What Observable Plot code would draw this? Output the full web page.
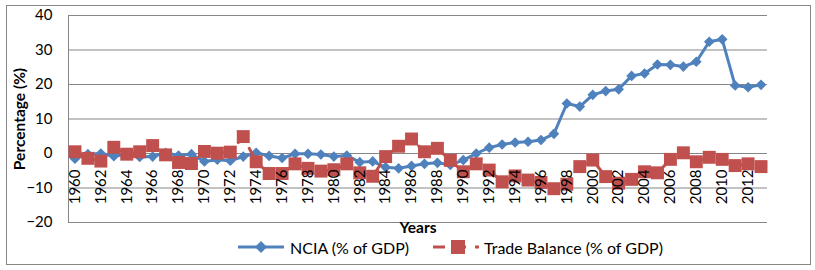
<!DOCTYPE html>
<html><head><meta charset="utf-8">
<script src="https://cdn.jsdelivr.net/npm/d3@7"></script>
<script src="https://cdn.jsdelivr.net/npm/@observablehq/plot@0.6"></script>
<style>
html,body{margin:0;padding:0;background:#fff;}
#page{position:relative;width:815px;height:270px;overflow:hidden;font-family:Lato,sans-serif;background:#fff;}
#border{position:absolute;left:6px;top:5px;width:805px;height:260px;border:1px solid #868686;box-sizing:border-box;pointer-events:none;}
#chart{position:absolute;left:0;top:0;}
#legend{position:absolute;left:0;top:238px;height:18px;width:815px;font-size:16px;color:#000;}
.item{position:absolute;top:0;height:18px;display:flex;align-items:center;white-space:nowrap;}
.item svg{display:block;}
</style>
</head><body>
<div id="page"><div id="chart"></div><div id="legend"></div><div id="border"></div></div>
<script>
const years = [1960,1961,1962,1963,1964,1965,1966,1967,1968,1969,1970,1971,1972,1973,1974,1975,1976,1977,1978,1979,1980,1981,1982,1983,1984,1985,1986,1987,1988,1989,1990,1991,1992,1993,1994,1995,1996,1997,1998,1999,2000,2001,2002,2003,2004,2005,2006,2007,2008,2009,2010,2011,2012,2013];
const ncia = [-1.5,-0.2,0,-0.8,-0.2,-1.0,-0.9,0.2,-0.6,-0.2,-2.3,-1.8,-2.1,-0.9,0.2,-0.7,-1.3,-0.1,-0.1,-0.3,-0.9,-0.6,-2.5,-2.3,-4.0,-4.3,-3.6,-3.0,-2.7,-3.3,-1.9,0,1.7,2.6,3.2,3.4,3.9,5.7,14.5,13.6,17.0,18.1,18.6,22.5,23.2,25.8,25.7,25.2,26.6,32.4,33.1,19.7,19.2,19.9];
const tradeBalance = [0.5,-1.4,-2.2,1.8,-0.2,0.5,2.3,-0.4,-2.6,-2.9,0.6,0.1,0.4,4.9,-2.4,-5.8,-5.8,-3.0,-4.3,-5.1,-4.7,-3.0,-5.6,-6.6,-0.9,2.1,4.2,0.5,1.5,-2.0,-5.3,-3.0,-4.8,-8.2,-6.5,-7.7,-8.4,-10.2,-8.9,-3.8,-1.9,-6.7,-8.6,-7.5,-5.3,-5.6,-1.7,0.2,-2.4,-1.1,-1.7,-3.5,-3.0,-3.8];
const yTicks = [-20,-10,0,10,20,30,40];
const xTickLabels = [1960,1962,1964,1966,1968,1970,1972,1974,1976,1978,1980,1982,1984,1986,1988,1990,1992,1994,1996,1998,2000,2002,2004,2006,2008,2010,2012];
const seriesNames = ["NCIA (% of GDP)", "Trade Balance (% of GDP)"];
const yTitle = "Percentage (%)";
const xTitle = "Years";

const blue = "#4F81BD", red = "#C0504D", grid = "#868686";
const rows = years.map((year, i) => ({year, ncia: ncia[i], trade: tradeBalance[i]}));

const chart = Plot.plot({
  width: 815, height: 240,
  marginLeft: 68, marginRight: 48, marginTop: 15, marginBottom: 18,
  x: {type: "point", domain: years, padding: 0.5, axis: null},
  y: {domain: [-20, 40], axis: null},
  style: {fontFamily: "Lato, sans-serif", fontSize: "15px", background: "#fff", color: "#000", overflow: "visible"},
  marks: [
    Plot.ruleY(yTicks, {stroke: grid, strokeOpacity: 1}),
    Plot.frame({anchor: "left", stroke: grid, strokeOpacity: 1}),
    Plot.axisY(yTicks, {tickSize: 0, tickPadding: 16, label: null, fontSize: 15, fill: "#000"}),
    Plot.line(rows, {x: "year", y: "ncia", stroke: blue, strokeWidth: 3}),
    Plot.dot(rows, {x: "year", y: "ncia", symbol: "diamond2", fill: blue, stroke: "none", r: 4.8}),
    Plot.line(rows, {x: "year", y: "trade", stroke: red, strokeWidth: 3, strokeDasharray: "12,9"}),
    Plot.dot(rows, {x: "year", y: "trade", symbol: "square", fill: red, stroke: "none", r: 7.3}),
    Plot.text(xTickLabels, {x: d => d, y: () => 0, text: d => String(d), rotate: -90, textAnchor: "end", lineAnchor: "middle", dy: 16, fontSize: 15, fill: "#000"}),
    Plot.text([yTitle], {frameAnchor: "left", dx: -48, rotate: -90, textAnchor: "middle", lineAnchor: "middle", fontWeight: "bold", fontSize: 15.5, fill: "#000"}),
    Plot.text([xTitle], {frameAnchor: "bottom", dy: 6, textAnchor: "middle", lineAnchor: "middle", fontWeight: "bold", fontSize: 15.5, fill: "#000"})
  ]
});
document.getElementById("chart").append(chart);

const legend = document.getElementById("legend");
legend.innerHTML = `
<div class="item" style="left:238px">
  <svg width="46" height="18"><line x1="0" y1="9" x2="46" y2="9" stroke="${blue}" stroke-width="3"/>
  <path d="M23,3 L29,9 L23,15 L17,9 Z" fill="${blue}"/></svg>
  <span style="margin-left:6px">${seriesNames[0]}</span>
</div>
<div class="item" style="left:433px">
  <svg width="46" height="18"><line x1="0" y1="9" x2="46" y2="9" stroke="${red}" stroke-width="3" stroke-dasharray="12,9"/>
  <rect x="18" y="2" width="14" height="14" fill="${red}"/></svg>
  <span style="margin-left:5px">${seriesNames[1]}</span>
</div>`;
</script>
</body></html>
